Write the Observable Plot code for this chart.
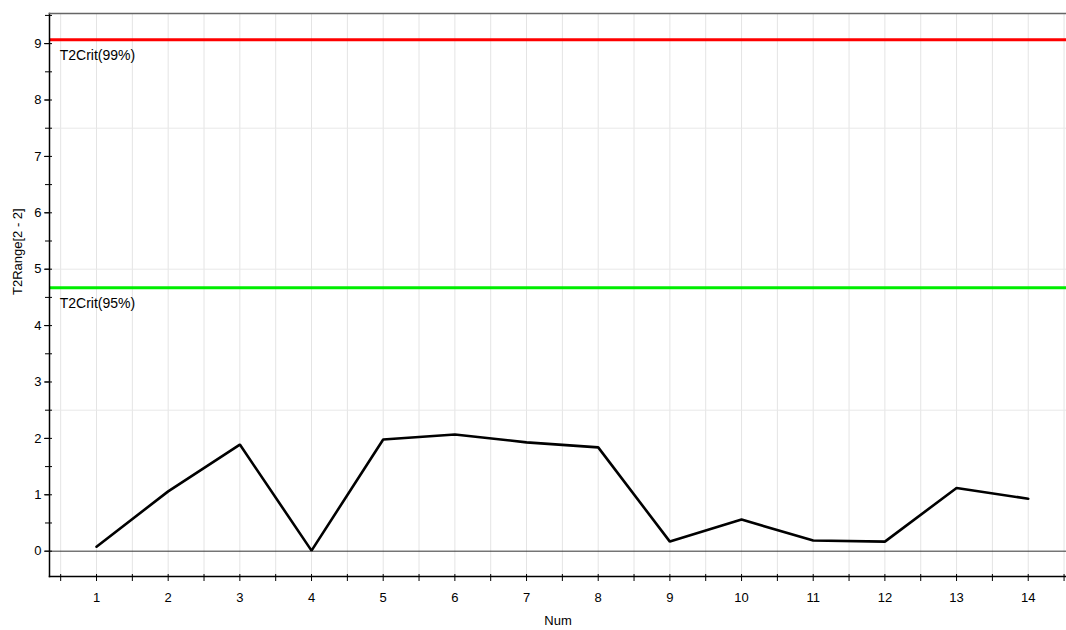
<!DOCTYPE html>
<html>
<head>
<meta charset="utf-8">
<script src="https://cdn.jsdelivr.net/npm/d3@7"></script>
<script src="https://cdn.jsdelivr.net/npm/@observablehq/plot@0.6"></script>
<style>
  html, body { margin: 0; padding: 0; background: #fff; }
  #chart svg { display: block; }
</style>
</head>
<body>
<div id="chart"></div>
<script>
const nums = [1, 2, 3, 4, 5, 6, 7, 8, 9, 10, 11, 12, 13, 14];
const t2Range = [0.08, 1.06, 1.89, 0.01, 1.98, 2.07, 1.93, 1.84, 0.17, 0.56, 0.19, 0.17, 1.12, 0.93];
const critLabels = ["T2Crit(99%)", "T2Crit(95%)"];
const critValues = [9.07, 4.67];
const critColors = ["#ff0000", "#00ee00"];
const yTicks = [0, 1, 2, 3, 4, 5, 6, 7, 8, 9];
const yMinorTicks = [-0.5, 0.5, 1.5, 2.5, 3.5, 4.5, 5.5, 6.5, 7.5, 8.5, 9.5];
const yGrid = [2.5, 5, 7.5];
const xTicks = nums;
const xMinorTicks = [0.5, 1.5, 2.5, 3.5, 4.5, 5.5, 6.5, 7.5, 8.5, 9.5, 10.5, 11.5, 12.5, 13.5, 14.5];

const series = nums.map((n, i) => ({num: n, value: t2Range[i]}));
const crit = critLabels.map((l, i) => ({label: l, value: critValues[i], color: critColors[i]}));
const allXTicks = [...xTicks, ...xMinorTicks];
const allYTicks = [...yTicks, ...yMinorTicks.filter(v => v > -0.45 && v < 9.53)];
const noText = () => "";

const chart = Plot.plot({
  width: 1066,
  height: 630,
  marginLeft: 49,
  marginRight: 0,
  marginTop: 13,
  marginBottom: 54,
  style: {fontFamily: "'Liberation Sans', Arial, sans-serif", fontSize: "13px", color: "#000", background: "#fff"},
  x: {domain: [0.344, 14.534]},
  y: {domain: [-0.449, 9.534]},
  marks: [
    Plot.ruleX(allXTicks, {x: d => d, stroke: "#e4e4e4", strokeWidth: 1}),
    Plot.ruleY(yGrid, {y: d => d, stroke: "#e8e8e8", strokeWidth: 1}),
    Plot.ruleY([0], {stroke: "#333", strokeWidth: 1}),
    Plot.ruleY(crit, {y: "value", stroke: "color", strokeWidth: 3}),
    Plot.text(crit, {x: 0.5, y: "value", text: "label", textAnchor: "start", dx: -1, dy: 16, fill: "#000", fontSize: 14}),
    Plot.line(series, {x: "num", y: "value", stroke: "#000", strokeWidth: 2.6, strokeLinejoin: "miter"}),
    Plot.axisX({ticks: xTicks, tickSize: 0, tickPadding: 16, tickFormat: d => String(d), label: null, fontSize: 13}),
    Plot.axisX({ticks: allXTicks, tickSize: 5, tickFormat: noText, label: null}),
    Plot.axisX({ticks: allXTicks, tickSize: -2, tickFormat: noText, label: null}),
    Plot.axisY({ticks: yTicks, tickSize: 5, tickPadding: 3, tickFormat: d => String(d), label: null, fontSize: 13}),
    Plot.axisY({ticks: allYTicks, tickSize: 4, tickFormat: noText, label: null}),
    Plot.axisY({ticks: allYTicks, tickSize: -3, tickFormat: noText, label: null}),
    Plot.frame({anchor: "left", stroke: "#000", strokeWidth: 1.5}),
    Plot.frame({anchor: "bottom", stroke: "#000", strokeWidth: 1.5}),
    Plot.frame({anchor: "top", stroke: "#666", strokeWidth: 1.5}),
    Plot.text(["Num"], {frameAnchor: "bottom", dy: 48, fontSize: 13, fill: "#000"}),
    Plot.text(["T2Range[2 - 2]"], {frameAnchor: "left", dx: -32, rotate: -90, fontSize: 13, fill: "#000"})
  ]
});
document.getElementById("chart").appendChild(chart);
</script>
</body>
</html>
